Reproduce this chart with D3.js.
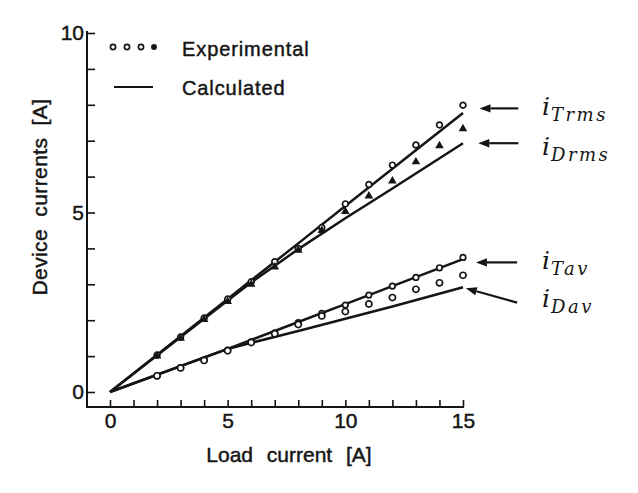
<!DOCTYPE html>
<html>
<head>
<meta charset="utf-8">
<script src="https://cdn.jsdelivr.net/npm/d3@7"></script>
<style>
  html, body { margin: 0; padding: 0; background: #fff; }
  svg { display: block; }
</style>
</head>
<body>
<div id="chart"></div>
<script>
// experimental points (load current in A)
const expX = [2, 3, 4, 5, 6, 7, 8, 9, 10, 11, 12, 13, 14, 15];
const expTrms = [1.03, 1.53, 2.06, 2.59, 3.07, 3.63, 4.0, 4.58, 5.24, 5.78, 6.32, 6.88, 7.44, 7.99];
const expDrms = [1.0, 1.5, 2.02, 2.52, 3.0, 3.48, 3.95, 4.5, 5.03, 5.46, 5.88, 6.41, 6.86, 7.33];
const expTav = [0.45, 0.68, 0.89, 1.17, 1.4, 1.65, 1.93, 2.19, 2.42, 2.7, 2.95, 3.19, 3.46, 3.75];
const expDav = [0.45, 0.67, 0.88, 1.15, 1.38, 1.62, 1.88, 2.12, 2.24, 2.45, 2.63, 2.86, 3.04, 3.25];

// calculated curves
const calcX = [0, 5, 6, 8, 10, 12, 15];
const calcTrms = [0, 2.59, 3.11, 4.14, 5.18, 6.22, 7.77];
const calcDrms = [0, 2.55, 3.05, 3.98, 4.84, 5.67, 6.93];
const calcTav = [0, 1.2, 1.45, 1.95, 2.45, 2.95, 3.7];
const calcDav = [0, 1.2, 1.37, 1.7, 2.04, 2.38, 2.92];

// curve labels with arrows (data units)
const labelSubs = ["Trms", "Drms", "Tav", "Dav"];
const arrowTipX = [15.7, 15.65, 15.55, 15.12];
const arrowTipY = [7.9, 6.93, 3.61, 2.89];
const arrowTailX = [17.35, 17.35, 17.3, 17.3];
const arrowTailY = [7.9, 6.93, 3.61, 2.49];
const labelY = [7.72, 6.6, 3.43, 2.38];

const xTicks = d3.range(0, 16);
const yTicks = d3.range(0, 11);

const width = 638, height = 493;
const ink = "#151515";
const sans = "'Liberation Sans', Arial, Helvetica, sans-serif";
const serif = "'DejaVu Serif', 'Liberation Serif', serif";

const x = d3.scaleLinear().domain([0, 15]).range([110, 463]);
const y = d3.scaleLinear().domain([0, 10]).range([392, 33]);
const yAxisX = 87, xAxisY = 407;

const svg = d3.select("#chart").append("svg")
    .attr("width", width)
    .attr("height", height)
    .style("background", "#fff");

// scanned text looks heavy, so give sans text a thin outline
function heavy(sel, size) {
    sel.style("font-family", sans).style("font-size", size)
        .attr("fill", ink).attr("stroke", ink).attr("stroke-width", 0.45);
}

// axes
const yAxis = svg.append("g")
    .attr("transform", `translate(${yAxisX},0)`)
    .call(d3.axisLeft(y).tickValues(yTicks)
        .tickSizeInner(-8).tickSizeOuter(0).tickPadding(3)
        .tickFormat(d => d % 5 === 0 ? d : ""));
yAxis.select(".domain").remove();

const xAxis = svg.append("g")
    .attr("transform", `translate(0,${xAxisY})`)
    .call(d3.axisBottom(x).tickValues(xTicks)
        .tickSizeInner(-7).tickSizeOuter(0).tickPadding(6)
        .tickFormat(d => d % 5 === 0 ? d : ""));
xAxis.select(".domain").remove();

[yAxis, xAxis].forEach(g => {
    g.selectAll("line").attr("stroke", ink).attr("stroke-width", 1.6);
    heavy(g.selectAll("text"), "21px");
});

svg.append("line")
    .attr("x1", yAxisX).attr("x2", yAxisX)
    .attr("y1", y(10) - 2).attr("y2", xAxisY)
    .attr("stroke", ink).attr("stroke-width", 2);
svg.append("line")
    .attr("x1", yAxisX - 1).attr("x2", x(15) + 1)
    .attr("y1", xAxisY).attr("y2", xAxisY)
    .attr("stroke", ink).attr("stroke-width", 2.2);

// axis titles
svg.append("text")
    .attr("x", 289).attr("y", 462)
    .attr("text-anchor", "middle")
    .style("word-spacing", "8px")
    .call(heavy, "21px")
    .text("Load current [A]");

svg.append("text")
    .attr("transform", "translate(47,197) rotate(-90)")
    .attr("text-anchor", "middle")
    .style("word-spacing", "6px").style("letter-spacing", "0.4px")
    .call(heavy, "21px")
    .text("Device currents [A]");

// calculated lines
const line = d3.line().x(d => x(d[0])).y(d => y(d[1]));
[calcTrms, calcDrms, calcTav, calcDav].forEach(vals => {
    svg.append("path")
        .datum(calcX.map((v, i) => [v, vals[i]]))
        .attr("d", line)
        .attr("fill", "none")
        .attr("stroke", ink)
        .attr("stroke-width", 2.5)
        .attr("stroke-linejoin", "round");
});

// experimental markers
const markerSets = [
    { vals: expTrms, shape: d3.symbolCircle, size: 26, filled: false },
    { vals: expDrms, shape: d3.symbolTriangle, size: 14, filled: true },
    { vals: expTav, shape: d3.symbolCircle, size: 24, filled: false },
    { vals: expDav, shape: d3.symbolCircle, size: 30, filled: false }
];
markerSets.forEach(m => {
    svg.append("g").selectAll("path")
        .data(expX.map((v, i) => [v, m.vals[i]]))
        .join("path")
        .attr("transform", d => `translate(${x(d[0])},${y(d[1])})`)
        .attr("d", d3.symbol().type(m.shape).size(m.size))
        .attr("fill", m.filled ? ink : "#fff")
        .attr("stroke", ink)
        .attr("stroke-width", 1.7);
});

// legend
const legend = svg.append("g");
[113, 127, 141, 154].forEach((lx, i) => {
    legend.append("circle")
        .attr("cx", lx).attr("cy", 47).attr("r", i === 3 ? 2.1 : 2.6)
        .attr("fill", i === 3 ? ink : "#fff")
        .attr("stroke", ink).attr("stroke-width", 1.7);
});
legend.append("line")
    .attr("x1", 114).attr("x2", 153).attr("y1", 87).attr("y2", 87)
    .attr("stroke", ink).attr("stroke-width", 2.2);
legend.selectAll("text")
    .data([["Experimental", 56], ["Calculated", 95]])
    .join("text")
    .attr("x", 182).attr("y", d => d[1])
    .style("letter-spacing", "0.9px")
    .call(heavy, "20px")
    .text(d => d[0]);

// arrows and curve labels
const ann = svg.append("g");
labelSubs.forEach((sub, i) => {
    const x1 = x(arrowTailX[i]), y1 = y(arrowTailY[i]);
    const x2 = x(arrowTipX[i]), y2 = y(arrowTipY[i]);
    const ang = Math.atan2(y2 - y1, x2 - x1);
    const len = 11, hw = 4.2;
    const bx = x2 - len * Math.cos(ang), by = y2 - len * Math.sin(ang);
    ann.append("line")
        .attr("x1", x1).attr("y1", y1).attr("x2", bx).attr("y2", by)
        .attr("stroke", ink).attr("stroke-width", 2.2);
    ann.append("path")
        .attr("d", `M${x2},${y2}L${bx - hw * Math.sin(ang)},${by + hw * Math.cos(ang)}L${bx + hw * Math.sin(ang)},${by - hw * Math.cos(ang)}Z`)
        .attr("fill", ink);

    const t = ann.append("text")
        .attr("x", 542).attr("y", y(labelY[i]))
        .style("font-family", serif).style("font-style", "italic")
        .attr("fill", ink);
    t.append("tspan").style("font-size", "25px").text("i");
    t.append("tspan").attr("dy", 6).attr("dx", 1)
        .style("font-size", "18px").style("letter-spacing", "2.5px")
        .text(sub);
});
</script>
</body>
</html>
